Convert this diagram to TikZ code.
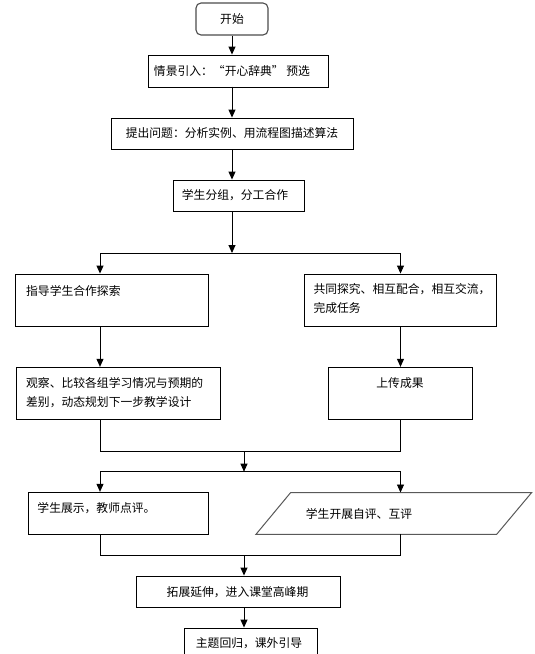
\documentclass[tikz,border=0pt]{standalone}
\usepackage{fontspec}
\setmainfont{Noto Sans CJK SC}
\usetikzlibrary{arrows.meta}
\begin{document}
\begin{tikzpicture}[x=1pt,y=-1pt,
  box/.style={draw=black,line width=0.9pt,fill=white,inner sep=0pt,minimum width=#1},
  lbl/.style={inner sep=0pt,font=\fontsize{11.8}{19}\selectfont},
  conn/.style={line width=0.9pt,draw=black},
  arr/.style={conn,-{Triangle[length=8pt,width=7pt]}}]
\useasboundingbox (0,0) rectangle (535,654);
\clip (0,0) rectangle (535,654);
\fill[white] (0,0) rectangle (535,654);
% nodes
\node[box=72pt,minimum height=32pt,rounded corners=5pt,draw=black!70,line width=1.1pt] (st) at (232,19) {};
\node[lbl] (tst) at (232,19) {开始};
\node[box=180pt,minimum height=32pt] (b1) at (238,71) {};
\node[lbl] (t1) at (232,71) {情景引入：“开心辞典” 预选};
\node[box=242pt,minimum height=31pt] (b2) at (232,133.5) {};
\node[lbl] (t2) at (232,133.5) {提出问题：分析实例、用流程图描述算法};
\node[box=131pt,minimum height=31pt] (b3) at (238.5,195.5) {};
\node[lbl] (t3) at (235,195.5) {学生分组，分工合作};
\node[box=193pt,minimum height=52pt] (l1) at (112.3,300) {};
\node[lbl,anchor=west] (tl1) at (26,290.7) {指导学生合作探索};
\node[box=192pt,minimum height=52pt] (r1) at (400.5,300) {};
\node[lbl,anchor=north west,align=left] (tr1) at (313.3,283) {共同探究、相互配合，相互交流，\\完成任务};
\node[box=204pt,minimum height=52pt] (l2) at (118,393.3) {};
\node[lbl,anchor=north west,align=left] (tl2) at (26,377.2) {观察、比较各组学习情况与预期的\\差别，动态规划下一步教学设计};
\node[box=144pt,minimum height=52pt] (r2) at (400.3,393.3) {};
\node[lbl] (tr2) at (400,382.7) {上传成果};
\node[box=180.4pt,minimum height=42pt] (l3) at (118.5,513.3) {};
\node[lbl,anchor=west] (tl3) at (37.3,508.3) {学生展示，教师点评。};
\coordinate (p) at (394,513.3);
\filldraw[fill=white,draw=black!65,line width=1pt] (256,534.3) -- (290.7,492.5) -- (531.7,492.5) -- (496.7,534.3) -- cycle;
\node[lbl] (tp) at (359,514.3) {学生开展自评、互评};
\node[box=204pt,minimum height=31pt] (b5) at (238,591.5) {};
\node[lbl] (t5) at (237.5,592) {拓展延伸，进入课堂高峰期};
\node[box=133pt,minimum height=31pt] (b6) at (250.5,643.5) {};
\node[lbl] (t6) at (249,643) {主题回归，课外引导};
% junction coordinates
\coordinate (s1) at (232,253);
\coordinate (s1l) at (100,253);
\coordinate (s1r) at (400.5,253);
\coordinate (j1l) at (100,451.7);
\coordinate (j1r) at (400.5,451.7);
\coordinate (j1) at (244,451.7);
\coordinate (s2) at (244,471.7);
\coordinate (s2l) at (100,471.7);
\coordinate (s2r) at (400.5,471.7);
\coordinate (j2l) at (100,555);
\coordinate (j2r) at (400.5,555);
\coordinate (j2) at (244,555);
\coordinate (ptop) at (400.5,492.5);
\coordinate (pbot) at (400.5,534.3);
% connectors
\draw[arr] (st.south) -- (st.south |- b1.north);
\draw[arr] (b1.north -| st.south) ++(0,32) -- (st.south |- b2.north);
\draw[arr] (st.south |- b2.south) -- (st.south |- b3.north);
\draw[arr] (st.south |- b3.south) -- (s1);
\draw[conn] (s1l) -- (s1r);
\draw[arr] (s1l) -- (s1l |- l1.north);
\draw[arr] (s1r) -- (s1r |- r1.north);
\draw[arr] (s1l |- l1.south) -- (s1l |- l2.north);
\draw[arr] (s1r |- r1.south) -- (s1r |- r2.north);
\draw[conn] (s1l |- l2.south) -- (j1l) -- (j1r) -- (s1r |- r2.south);
\draw[arr] (j1) -- (s2);
\draw[conn] (s2l) -- (s2r);
\draw[arr] (s2l) -- (s2l |- l3.north);
\draw[arr] (s2r) -- (ptop);
\draw[conn] (s2l |- l3.south) -- (j2l) -- (j2r) -- (pbot);
\draw[arr] (j2) -- (j2 |- b5.north);
\draw[arr] (j2 |- b5.south) -- (j2 |- b6.north);
\end{tikzpicture}
\end{document}
